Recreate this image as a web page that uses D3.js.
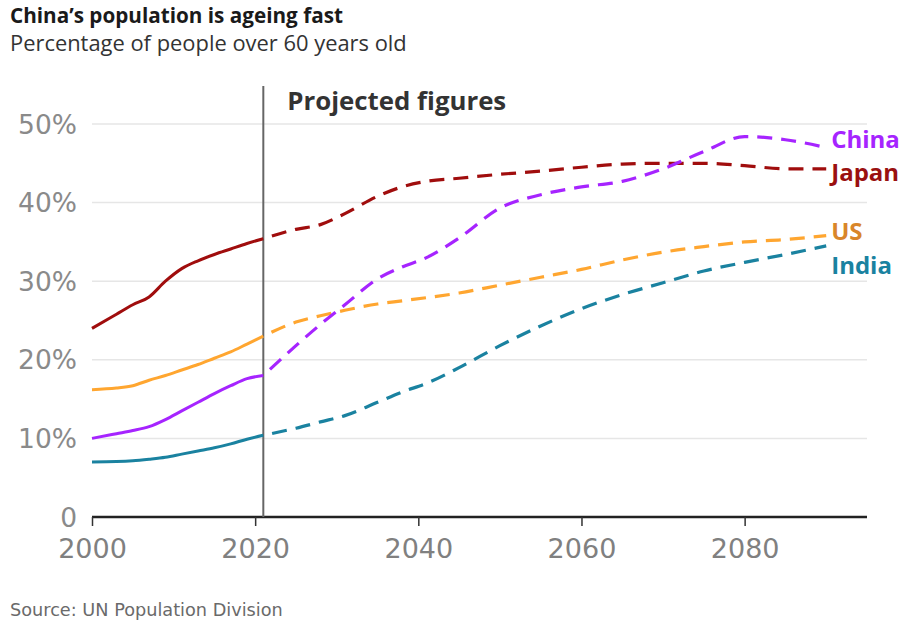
<!DOCTYPE html>
<html><head><meta charset="utf-8">
<script src="https://cdn.jsdelivr.net/npm/d3@7"></script>
<style>body{margin:0;background:#fff;} svg{display:block;}</style>
</head><body>
<svg id="c" width="919" height="622"></svg>
<script>
const title = "China’s population is ageing fast";
const subtitle = "Percentage of people over 60 years old";
const source = "Source: UN Population Division";
const projLabel = "Projected figures";
const projYear = 2021;

const yTicks = [0, 10, 20, 30, 40, 50];
const xTicks = [2000, 2020, 2040, 2060, 2080];

const histYears = [2000, 2003, 2005, 2007, 2009, 2011, 2013, 2015, 2017, 2019, 2021];
const japanHist = [24.0, 25.8, 27.0, 28.0, 30.0, 31.6, 32.6, 33.4, 34.1, 34.8, 35.4];
const usHist    = [16.2, 16.4, 16.7, 17.4, 18.0, 18.7, 19.4, 20.2, 21.0, 22.0, 23.0];
const chinaHist = [10.0, 10.6, 11.0, 11.5, 12.4, 13.5, 14.6, 15.7, 16.7, 17.6, 18.0];
const indiaHist = [7.0, 7.05, 7.15, 7.35, 7.6, 8.0, 8.4, 8.8, 9.3, 9.9, 10.4];

const projYears = [2021, 2025, 2028, 2031, 2035, 2038, 2041, 2045, 2050, 2055, 2060, 2065, 2070, 2075, 2080, 2085, 2090];
const japanProj = [35.4, 36.6, 37.2, 38.6, 40.8, 42.0, 42.7, 43.1, 43.6, 44.0, 44.5, 44.9, 45.0, 45.0, 44.7, 44.3, 44.3];
const usProj    = [23.0, 24.8, 25.6, 26.3, 27.1, 27.5, 27.9, 28.5, 29.5, 30.5, 31.5, 32.7, 33.7, 34.4, 35.0, 35.3, 35.8];
const chinaProj = [18.0, 21.8, 24.5, 27.0, 30.3, 31.8, 33.0, 35.5, 39.3, 41.0, 42.0, 42.7, 44.3, 46.5, 48.4, 48.0, 47.0];
const indiaProj = [10.4, 11.3, 12.1, 12.9, 14.6, 15.9, 17.0, 19.0, 21.8, 24.3, 26.5, 28.3, 29.8, 31.3, 32.4, 33.4, 34.5];

const names = ["China", "Japan", "US", "India"];
const labelValues = [48.1, 43.8, 36.3, 32.0];

const series = [
  {name: "Japan", hist: japanHist, proj: japanProj, color: "#a00d0d", label: "#9a1010"},
  {name: "US", hist: usHist, proj: usProj, color: "#ffa630", label: "#d9862a"},
  {name: "China", hist: chinaHist, proj: chinaProj, color: "#a624ff", label: "#a624ff"},
  {name: "India", hist: indiaHist, proj: indiaProj, color: "#1a82a0", label: "#1a82a0"}
];

const svg = d3.select("#c");
const x = d3.scaleLinear().domain([2000, 2095]).range([92, 867]);
const y = d3.scaleLinear().domain([0, 50]).range([517, 124]);

// scale a text's font-size so it spans the given width
function fit(sel, width) {
  const n = sel.node();
  const fs = parseFloat(sel.attr("font-size"));
  const w = n.getComputedTextLength();
  if (w > 0) sel.attr("font-size", (fs * width / w).toFixed(2));
  return sel;
}

fit(svg.append("text").attr("x", 10).attr("y", 23).attr("font-family", "'Open Sans', sans-serif")
  .attr("font-weight", 700).attr("font-size", 18).attr("fill", "#1a1a1a").text(title), 333);
fit(svg.append("text").attr("x", 10).attr("y", 51).attr("font-family", "'Open Sans', sans-serif")
  .attr("font-size", 18).attr("fill", "#333").text(subtitle), 397);

// grid
svg.append("g").selectAll("line").data(yTicks.filter(d => d > 0)).join("line")
  .attr("x1", x(2000)).attr("x2", x(2095))
  .attr("y1", d => y(d)).attr("y2", d => y(d))
  .attr("stroke", "#e6e6e6").attr("stroke-width", 1.5);

// y labels
svg.append("g").selectAll("text").data(yTicks).join("text")
  .attr("x", 77).attr("y", d => y(d)).attr("dy", "0.36em")
  .attr("text-anchor", "end").attr("font-family", "'DejaVu Sans', sans-serif")
  .attr("font-size", 26.5).attr("fill", "#8a8a8a")
  .text(d => d === 0 ? "0" : d + "%");

// x axis
const xAxis = d3.axisBottom(x).tickValues(xTicks).tickSize(9).tickFormat(d3.format("d"));
const gx = svg.append("g").attr("transform", `translate(0,${y(0)})`).call(xAxis);
gx.select(".domain").attr("stroke", "#222").attr("stroke-width", 2.5).attr("d", `M${x(2000)},0H${x(2095)}`);
gx.selectAll(".tick line").attr("stroke", "#333").attr("stroke-width", 1.5);
gx.selectAll(".tick text").attr("font-family", "'DejaVu Sans', sans-serif")
  .attr("font-size", 27).attr("fill", "#808080").attr("dy", "0.71em").attr("y", 22);

// projection line
svg.append("line").attr("x1", x(projYear)).attr("x2", x(projYear))
  .attr("y1", 86).attr("y2", y(0)).attr("stroke", "#666").attr("stroke-width", 2);
fit(svg.append("text").attr("x", x(projYear) + 24).attr("y", 110)
  .attr("font-family", "'Open Sans', sans-serif").attr("font-weight", 700)
  .attr("font-size", 22).attr("fill", "#333").text(projLabel), 219);

const line = d3.line().curve(d3.curveMonotoneX);
series.forEach(s => {
  svg.append("path").attr("d", line(histYears.map((yr, i) => [x(yr), y(s.hist[i])])))
    .attr("fill", "none").attr("stroke", s.color).attr("stroke-width", 3);
  svg.append("path").attr("d", line(projYears.map((yr, i) => [x(yr), y(s.proj[i])])))
    .attr("fill", "none").attr("stroke", s.color).attr("stroke-width", 3.2)
    .attr("stroke-dasharray", "15 9").attr("stroke-dashoffset", 15);
});

// labels
names.forEach((n, i) => {
  const s = series.find(d => d.name === n);
  svg.append("text").attr("x", x(2090) + 5).attr("y", y(labelValues[i])).attr("dy", "0.36em")
    .attr("font-family", "'Open Sans', sans-serif").attr("font-weight", 700)
    .attr("font-size", 24).attr("fill", s.label).text(n);
});

fit(svg.append("text").attr("x", 10).attr("y", 616).attr("font-family", "'DejaVu Sans', sans-serif")
  .attr("font-size", 16).attr("fill", "#6a6a6a").text(source), 273);
</script>
</body></html>
